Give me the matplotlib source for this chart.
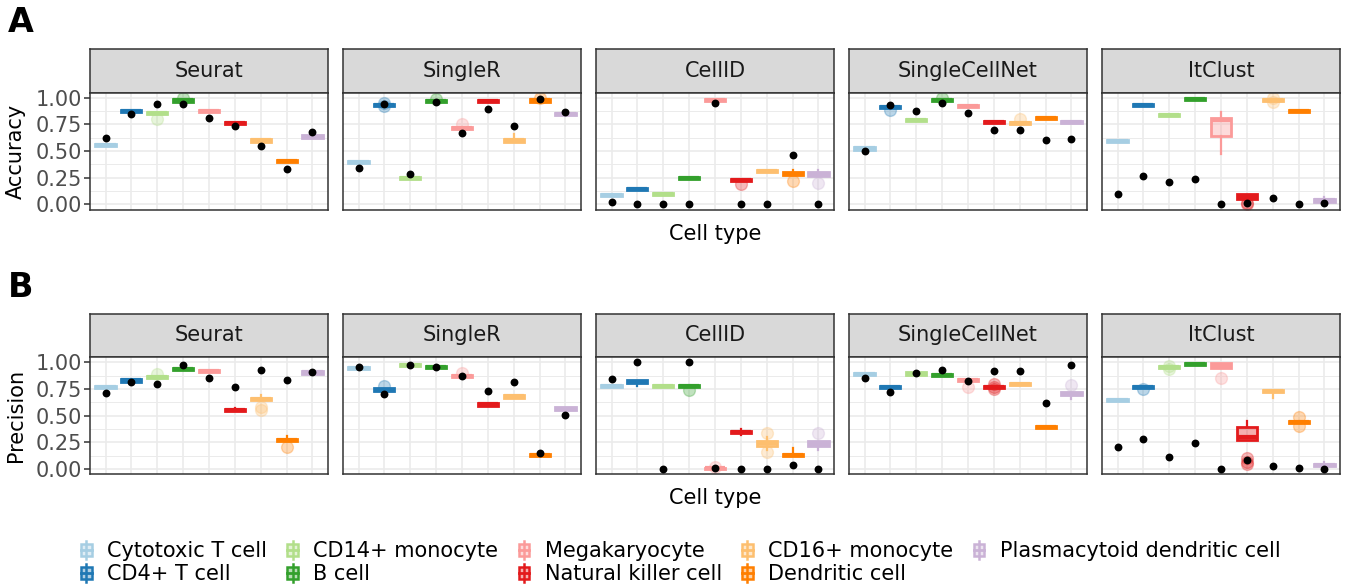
import numpy as np
import matplotlib
matplotlib.use("Agg")
import matplotlib.pyplot as plt
from matplotlib.patches import Patch, Rectangle
from matplotlib.lines import Line2D
from matplotlib.legend_handler import HandlerBase

METHODS = ["Seurat", "SingleR", "CellID", "SingleCellNet", "ItClust"]
CELL_TYPES = ["Cytotoxic T cell", "CD4+ T cell", "CD14+ monocyte", "B cell",
              "Megakaryocyte", "Natural killer cell", "CD16+ monocyte",
              "Dendritic cell", "Plasmacytoid dendritic cell"]
COLORS = ["#A6CEE3", "#1F78B4", "#B2DF8A", "#33A02C", "#FB9A99",
          "#E31A1C", "#FDBF6F", "#FF7F00", "#CAB2D6"]

# ---- Accuracy (panel A) ----
acc_med = [
    [0.555, 0.880, 0.855, 0.975, 0.880, 0.760, 0.600, 0.410, 0.635],
    [0.400, 0.935, 0.245, 0.970, 0.715, 0.970, 0.605, 0.975, 0.845],
    [0.090, 0.145, 0.100, 0.250, 0.980, 0.230, 0.315, 0.290, 0.285],
    [0.525, 0.910, 0.795, 0.980, 0.920, 0.775, 0.760, 0.810, 0.770],
    [0.595, 0.935, 0.835, 0.990, 0.790, 0.070, 0.980, 0.880, 0.040],
]
acc_q1 = [
    [0.545, 0.870, 0.845, 0.965, 0.870, 0.750, 0.590, 0.400, 0.620],
    [0.390, 0.925, 0.235, 0.960, 0.705, 0.960, 0.590, 0.965, 0.835],
    [0.080, 0.135, 0.090, 0.240, 0.970, 0.220, 0.305, 0.275, 0.270],
    [0.515, 0.900, 0.785, 0.970, 0.910, 0.765, 0.750, 0.800, 0.760],
    [0.585, 0.925, 0.825, 0.980, 0.640, 0.055, 0.970, 0.870, 0.020],
]
acc_q3 = [
    [0.565, 0.890, 0.865, 0.985, 0.890, 0.770, 0.610, 0.420, 0.650],
    [0.410, 0.945, 0.255, 0.980, 0.725, 0.980, 0.615, 0.985, 0.855],
    [0.100, 0.155, 0.110, 0.260, 0.990, 0.240, 0.325, 0.300, 0.300],
    [0.535, 0.920, 0.805, 0.990, 0.930, 0.785, 0.770, 0.820, 0.780],
    [0.605, 0.945, 0.845, 1.000, 0.815, 0.095, 0.990, 0.890, 0.055],
]
acc_dot = [
    [0.620, 0.850, 0.940, 0.940, 0.810, 0.740, 0.550, 0.335, 0.675],
    [0.340, 0.940, 0.290, 0.960, 0.670, 0.895, 0.740, 0.985, 0.870],
    [0.020, 0.000, 0.000, 0.005, 0.955, 0.000, 0.000, 0.462, 0.000],
    [0.505, 0.937, 0.875, 0.955, 0.862, 0.700, 0.695, 0.605, 0.610],
    [0.095, 0.265, 0.215, 0.240, 0.000, 0.015, 0.060, 0.003, 0.015],
]
# (method, cell type, whisker low, whisker high)
acc_whiskers = [(1, 6, 0.590, 0.660), (2, 7, 0.275, 0.325), (2, 8, 0.270, 0.320),
                (4, 4, 0.470, 0.870), (4, 5, 0.030, 0.095), (4, 8, 0.020, 0.070)]
# (method, cell type, value)
acc_outliers = [(0, 2, 0.800), (0, 3, 1.000), (1, 1, 0.950), (1, 1, 0.925),
                (1, 3, 0.990), (1, 4, 0.755), (1, 7, 1.000), (2, 5, 0.195),
                (2, 7, 0.220), (2, 8, 0.200), (3, 1, 0.885), (3, 3, 1.000),
                (3, 6, 0.800), (4, 5, 0.010), (4, 5, 0.000), (4, 6, 1.000),
                (4, 6, 0.960)]

# ---- Precision (panel B) ----
prec_med = [
    [0.770, 0.830, 0.860, 0.935, 0.915, 0.550, 0.655, 0.275, 0.905],
    [0.950, 0.745, 0.975, 0.955, 0.875, 0.605, 0.680, 0.135, 0.565],
    [0.780, 0.820, 0.775, 0.780, 0.005, 0.350, 0.240, 0.135, 0.235],
    [0.890, 0.770, 0.895, 0.880, 0.835, 0.770, 0.795, 0.395, 0.705],
    [0.645, 0.770, 0.955, 0.985, 0.970, 0.300, 0.735, 0.440, 0.035],
]
prec_q1 = [
    [0.760, 0.820, 0.850, 0.925, 0.905, 0.540, 0.645, 0.265, 0.895],
    [0.940, 0.735, 0.965, 0.945, 0.865, 0.595, 0.670, 0.125, 0.550],
    [0.770, 0.810, 0.765, 0.770, 0.000, 0.340, 0.220, 0.120, 0.215],
    [0.880, 0.760, 0.885, 0.870, 0.825, 0.760, 0.785, 0.385, 0.690],
    [0.635, 0.760, 0.945, 0.975, 0.950, 0.270, 0.725, 0.430, 0.025],
]
prec_q3 = [
    [0.780, 0.840, 0.870, 0.945, 0.925, 0.560, 0.665, 0.285, 0.915],
    [0.960, 0.755, 0.985, 0.965, 0.885, 0.615, 0.690, 0.145, 0.580],
    [0.790, 0.835, 0.785, 0.790, 0.010, 0.360, 0.260, 0.145, 0.260],
    [0.900, 0.780, 0.905, 0.890, 0.845, 0.780, 0.805, 0.405, 0.720],
    [0.655, 0.780, 0.965, 0.995, 0.990, 0.390, 0.745, 0.450, 0.045],
]
prec_dot = [
    [0.715, 0.812, 0.800, 0.975, 0.855, 0.770, 0.925, 0.830, 0.910],
    [0.955, 0.700, 0.975, 0.955, 0.870, 0.730, 0.820, 0.150, 0.510],
    [0.840, 1.000, 0.000, 1.000, 0.010, 0.000, 0.000, 0.035, 0.000],
    [0.855, 0.720, 0.900, 0.930, 0.825, 0.915, 0.920, 0.615, 0.975],
    [0.210, 0.280, 0.110, 0.245, 0.000, 0.085, 0.030, 0.010, 0.000],
]
prec_whiskers = [(0, 5, 0.540, 0.575), (0, 6, 0.645, 0.690), (0, 7, 0.265, 0.310),
                 (2, 1, 0.780, 0.835), (2, 5, 0.315, 0.375), (2, 6, 0.180, 0.300),
                 (2, 7, 0.120, 0.200), (2, 8, 0.180, 0.260), (3, 8, 0.655, 0.720),
                 (4, 5, 0.270, 0.450), (4, 6, 0.670, 0.745), (4, 8, 0.025, 0.070)]
prec_outliers = [(0, 2, 0.890), (0, 6, 0.585), (0, 6, 0.555), (0, 7, 0.205),
                 (1, 1, 0.780), (1, 4, 0.900), (2, 3, 0.740), (2, 4, 0.015),
                 (2, 6, 0.335), (2, 6, 0.155), (2, 8, 0.335), (3, 4, 0.765),
                 (3, 5, 0.800), (3, 5, 0.750), (3, 5, 0.770), (3, 8, 0.790),
                 (4, 1, 0.750), (4, 2, 0.940), (4, 2, 0.970), (4, 4, 0.855),
                 (4, 5, 0.100), (4, 5, 0.070), (4, 5, 0.050), (4, 7, 0.485),
                 (4, 7, 0.400)]

W, H = 1349, 586
fig = plt.figure(figsize=(W / 100, H / 100), dpi=100)
plt.rcParams["font.family"] = "DejaVu Sans"
FS = 15


def fx(px):
    return px / W


def fy(px):
    return 1 - px / H


class BoxKey(HandlerBase):
    def create_artists(self, legend, orig_handle, xdescent, ydescent,
                       width, height, fontsize, trans):
        c = orig_handle.get_edgecolor()
        cx = width / 2 - xdescent
        bw = width * 0.62
        y0 = -ydescent
        wh = Line2D([cx, cx], [y0 - height * 0.1, y0 + height * 1.1],
                    color=c, lw=1.8, transform=trans)
        box = Rectangle((cx - bw / 2, y0 + height * 0.1), bw, height * 0.8,
                        facecolor=(*c[:3], 0.35), edgecolor=c, lw=1.8,
                        transform=trans)
        med = Line2D([cx - bw / 2, cx + bw / 2], [y0 + height / 2] * 2,
                     color=c, lw=2.0, transform=trans)
        return [wh, box, med]


def draw_row(top_px, med, q1, q3, dots, whiskers, outliers, ylabel):
    strip_h = 43.5
    panel_h = 117.3
    xs = np.arange(1, len(CELL_TYPES) + 1)
    wmap = {(m, c): (lo, hi) for m, c, lo, hi in whiskers}
    for mi, name in enumerate(METHODS):
        left = 90 + 253 * mi
        # strip
        sax = fig.add_axes([fx(left), fy(top_px + strip_h), fx(238), strip_h / H])
        sax.set_facecolor("#D9D9D9")
        sax.set_xticks([])
        sax.set_yticks([])
        for s in sax.spines.values():
            s.set_color("#333333")
            s.set_linewidth(1.1)
        sax.text(0.5, 0.5, name, ha="center", va="center", fontsize=FS,
                 color="#1A1A1A", transform=sax.transAxes)

        ax = fig.add_axes([fx(left), fy(top_px + strip_h + panel_h), fx(238), panel_h / H])
        ax.set_xlim(0.4, 9.6)
        ax.set_ylim(-0.05, 1.05)
        ax.set_xticks(xs)
        ax.set_yticks([0, 0.25, 0.5, 0.75, 1.0])
        ax.set_yticks([0.125, 0.375, 0.625, 0.875], minor=True)
        ax.grid(True, which="major", color="#EBEBEB", lw=1.2)
        ax.grid(True, which="minor", axis="y", color="#EBEBEB", lw=0.7)
        ax.set_axisbelow(True)
        ax.tick_params(axis="x", length=0, labelbottom=False)
        ax.tick_params(axis="y", which="minor", length=0)
        if mi == 0:
            ax.set_yticklabels(["0.00", "0.25", "0.50", "0.75", "1.00"])
            ax.tick_params(axis="y", length=4, width=1.1, color="#333333",
                           labelsize=FS, labelcolor="#4D4D4D", pad=2)
        else:
            ax.tick_params(axis="y", length=0, labelleft=False)
        for s in ax.spines.values():
            s.set_color("#333333")
            s.set_linewidth(1.1)

        for ci, col in enumerate(COLORS):
            lo, hi = wmap.get((mi, ci), (q1[mi][ci], q3[mi][ci]))
            fl = [v for m, c, v in outliers if m == mi and c == ci]
            stats = dict(med=med[mi][ci], q1=q1[mi][ci], q3=q3[mi][ci],
                         whislo=lo, whishi=hi, fliers=fl)
            ax.bxp([stats], positions=[xs[ci]], widths=0.78, patch_artist=True,
                   showcaps=False, manage_ticks=False,
                   boxprops=dict(facecolor=matplotlib.colors.to_rgba(col, 0.35),
                                 edgecolor=col, linewidth=2.0),
                   medianprops=dict(color=col, linewidth=3.0, solid_capstyle="butt"),
                   whiskerprops=dict(color=col, linewidth=1.6),
                   flierprops=dict(marker="o", markerfacecolor=col,
                                   markeredgecolor=col, alpha=0.3,
                                   markersize=8.5, linestyle="none"))
        ax.scatter(xs, dots[mi], s=32, color="black", zorder=6, linewidths=0)

    fig.text(fx(16), fy(top_px + strip_h + panel_h / 2), ylabel, rotation=90,
             ha="center", va="center", fontsize=FS, color="black")
    fig.text(fx(715), fy(top_px + strip_h + panel_h + 24), "Cell type",
             ha="center", va="center", fontsize=FS, color="black")


draw_row(49, acc_med, acc_q1, acc_q3, acc_dot, acc_whiskers, acc_outliers, "Accuracy")
draw_row(313.5, prec_med, prec_q1, prec_q3, prec_dot, prec_whiskers, prec_outliers, "Precision")

fig.text(fx(8), fy(22), "A", fontsize=24, fontweight="bold", ha="left", va="center")
fig.text(fx(8), fy(287), "B", fontsize=24, fontweight="bold", ha="left", va="center")

handles = [Patch(facecolor=c, edgecolor=c) for c in COLORS]
fig.legend(handles, CELL_TYPES, loc="upper left", bbox_to_anchor=(fx(78), fy(541)),
           ncol=5, frameon=False, fontsize=FS, handlelength=0.8, handleheight=0.75,
           handletextpad=0.6, columnspacing=0.82, labelspacing=0.15, borderpad=0,
           borderaxespad=0, handler_map={Patch: BoxKey()})

fig.savefig("out.png", dpi=100)
